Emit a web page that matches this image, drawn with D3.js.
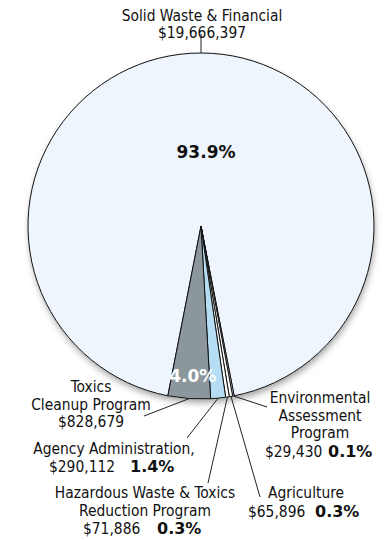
<!DOCTYPE html>
<html>
<head>
<meta charset="utf-8">
<script src="https://cdn.jsdelivr.net/npm/d3@7"></script>
<style>
  html, body { margin: 0; padding: 0; background: #fff; }
  svg { display: block; }
  text { font-family: "DejaVu Sans Condensed", "DejaVu Sans", Verdana, sans-serif; font-stretch: condensed; fill: #111; }
  text.pct { font-family: "DejaVu Sans", Verdana, sans-serif; font-stretch: normal; font-weight: bold; }
</style>
</head>
<body>
<svg id="chart" width="392" height="540"></svg>
<script>
// Budget by program, in clockwise order starting with the largest slice
const programs = [
  "Solid Waste & Financial",
  "Environmental Assessment Program",
  "Agriculture",
  "Hazardous Waste & Toxics Reduction Program",
  "Agency Administration",
  "Toxics Cleanup Program"
];
const amounts = [19666397, 29430, 65896, 71886, 290112, 828679];
const percentLabels = ["93.9%", "0.1%", "0.3%", "0.3%", "1.4%", "4.0%"];
const amountLabels = ["$19,666,397", "$29,430", "$65,896", "$71,886", "$290,112", "$828,679"];
const sliceColors = ["#eef5fc", "#ffffff", "#ffffff", "#ffffff", "#b5def5", "#8b979d"];

const svg = d3.select("#chart");
const cx = 201, cy = 226, radius = 173;

const data = programs.map((name, i) => ({
  name, value: amounts[i], pct: percentLabels[i], amt: amountLabels[i], color: sliceColors[i]
}));

// Largest slice is centred on the top of the pie
const total = d3.sum(amounts);
const start = -Math.PI * amounts[0] / total;
const pie = d3.pie().sort(null).value(d => d.value)
  .startAngle(start).endAngle(start + 2 * Math.PI);
const arcs = pie(data);

const arc = d3.arc().innerRadius(0).outerRadius(radius);
const labelArc = d3.arc().innerRadius(150).outerRadius(150);

// Soft shadow under the pie
const defs = svg.append("defs");
const f = defs.append("filter").attr("id", "shadow")
  .attr("x", "-20%").attr("y", "-20%").attr("width", "140%").attr("height", "140%");
f.append("feDropShadow").attr("dx", 1).attr("dy", 4).attr("stdDeviation", 3)
  .attr("flood-color", "#000").attr("flood-opacity", 0.35);

const g = svg.append("g").attr("transform", `translate(${cx},${cy})`);

g.append("circle").attr("r", radius).attr("fill", "#eef5fc").attr("filter", "url(#shadow)");

g.selectAll("path.slice").data(arcs).join("path")
  .attr("class", "slice")
  .attr("d", arc)
  .attr("fill", d => d.data.color)
  .attr("stroke", "#111")
  .attr("stroke-width", 1)
  .attr("stroke-linejoin", "round");

// Percentages drawn inside the two larger slices
g.append("text").attr("class", "pct")
  .attr("x", 5).attr("y", -68)
  .attr("text-anchor", "middle")
  .style("font-size", "17px")
  .text(arcs[0].data.pct);

const c5 = labelArc.centroid(arcs[5]);
g.append("text").attr("class", "pct")
  .attr("x", c5[0] + 2).attr("y", c5[1] + 6)
  .attr("text-anchor", "middle")
  .style("font-size", "17px")
  .style("fill", "#fff")
  .text(arcs[5].data.pct);

// Leader lines from each slice's outer edge to its label
const edge = d => {
  const a = (d.startAngle + d.endAngle) / 2;
  return [cx + radius * Math.sin(a), cy - radius * Math.cos(a)];
};
const leaderEnds = [[201, 34], [267, 407], [260, 497], [208, 483], [187, 438], [144, 416]];
svg.selectAll("line.leader").data(arcs).join("line")
  .attr("class", "leader")
  .attr("x1", d => edge(d)[0]).attr("y1", d => edge(d)[1])
  .attr("x2", (d, i) => leaderEnds[i][0]).attr("y2", (d, i) => leaderEnds[i][1])
  .attr("stroke", "#222").attr("stroke-width", 1);

// Text blocks: each line is [text, x, y, anchor, bold]
const FS = "15.4px";
function block(lines) {
  lines.forEach(([t, x, y, anchor, bold]) => {
    svg.append("text")
      .attr("class", bold ? "pct" : null)
      .attr("x", x).attr("y", y)
      .attr("text-anchor", anchor || "middle")
      .style("font-size", bold ? "16px" : FS)
      .text(t);
  });
}

block([
  ["Solid Waste & Financial", 202, 21],
  [data[0].amt, 202, 38]
]);
block([
  ["Toxics", 91, 392],
  ["Cleanup Program", 91, 410],
  [data[5].amt, 91, 427]
]);
block([
  ["Agency Administration,", 114, 454],
  [data[4].amt, 49, 472, "start"],
  [data[4].pct, 130, 472, "start", true]
]);
block([
  ["Hazardous Waste & Toxics", 145, 498],
  ["Reduction Program", 145, 516],
  [data[3].amt, 83, 534, "start"],
  [data[3].pct, 157, 534, "start", true]
]);
block([
  ["Environmental", 320, 403],
  ["Assessment", 320, 421],
  ["Program", 320, 438],
  [data[1].amt, 265, 457, "start"],
  [data[1].pct, 328, 457, "start", true]
]);
block([
  ["Agriculture", 306, 498],
  [data[2].amt, 248, 517, "start"],
  [data[2].pct, 315, 517, "start", true]
]);
</script>
</body>
</html>
